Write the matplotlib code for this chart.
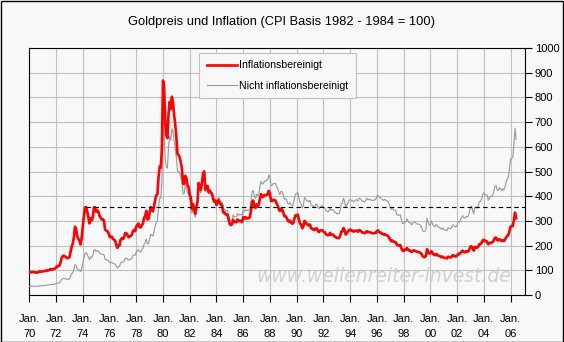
import numpy as np
import matplotlib
matplotlib.use('Agg')
import matplotlib.pyplot as plt
from matplotlib.patches import Rectangle

plt.rcParams['font.family'] = ['Liberation Sans', 'DejaVu Sans']

# monthly gold price, USD/oz, Jan 1970 .. Jun 2006
gold_nominal = [
    34.9, 35.0, 35.1, 35.6, 35.9, 35.4, 35.3, 35.4, 36.2, 37.5, 37.4, 37.4,
    37.9, 38.7, 38.9, 39.0, 40.5, 40.1, 41.0, 42.7, 42.0, 42.5, 42.9, 43.5,
    45.7, 48.3, 48.3, 49.0, 54.6, 62.1, 65.7, 67.0, 65.5, 64.9, 62.9, 63.9,
    65.1, 74.2, 84.4, 90.5, 102.0, 122.5, 120.0, 106.8, 103.0, 100.0, 94.0, 106.5,
    129.0, 150.2, 168.4, 172.2, 163.3, 154.1, 142.9, 154.6, 151.8, 158.8, 181.7, 183.9,
    175.8, 179.6, 178.0, 169.9, 167.4, 164.2, 165.4, 163.1, 144.3, 142.7, 142.2, 139.3,
    131.5, 130.9, 132.6, 128.3, 126.6, 125.5, 117.8, 109.3, 114.6, 116.0, 130.3, 133.9,
    132.3, 136.3, 148.2, 149.3, 146.6, 140.8, 143.3, 144.7, 149.0, 158.8, 162.6, 160.5,
    173.1, 178.2, 183.7, 175.1, 176.3, 183.7, 188.7, 206.1, 212.1, 227.3, 206.1, 207.8,
    227.3, 245.7, 242.0, 239.2, 257.6, 279.1, 294.7, 300.8, 355.1, 391.7, 392.5, 455.1,
    675.3, 665.3, 553.6, 517.4, 513.8, 600.7, 644.3, 626.5, 673.6, 661.1, 623.5, 594.9,
    557.5, 500.2, 499.8, 494.8, 479.7, 460.8, 409.3, 410.1, 443.1, 437.7, 413.3, 410.1,
    384.4, 374.4, 330.5, 350.3, 333.5, 314.9, 339.1, 364.9, 438.0, 422.9, 414.1, 444.3,
    481.3, 491.1, 419.7, 432.8, 438.4, 413.0, 422.7, 416.2, 411.4, 393.7, 382.2, 388.1,
    370.9, 386.1, 394.2, 381.2, 377.6, 377.7, 347.5, 347.7, 341.1, 340.2, 341.2, 320.2,
    302.8, 299.1, 304.4, 324.3, 316.3, 316.4, 317.4, 330.0, 323.5, 326.4, 325.3, 322.4,
    345.4, 339.1, 346.3, 340.8, 342.6, 342.7, 348.5, 376.7, 418.2, 423.6, 398.5, 391.3,
    408.3, 401.1, 408.9, 438.4, 460.2, 449.6, 450.5, 460.8, 460.2, 465.4, 467.3, 486.3,
    477.0, 442.1, 443.6, 451.6, 451.6, 451.3, 437.5, 431.6, 413.5, 406.7, 420.3, 418.7,
    404.4, 387.8, 390.2, 384.3, 371.1, 367.6, 375.0, 365.4, 361.8, 366.8, 392.3, 409.3,
    410.1, 416.8, 393.1, 374.3, 369.1, 352.3, 362.5, 395.1, 389.3, 381.0, 381.8, 376.6,
    383.6, 363.8, 363.3, 358.4, 356.8, 366.7, 367.7, 356.3, 348.7, 358.7, 359.8, 361.1,
    354.5, 353.9, 344.3, 338.6, 337.4, 340.8, 353.0, 343.2, 345.4, 344.4, 335.0, 334.7,
    329.0, 329.3, 330.0, 342.2, 367.1, 371.9, 392.0, 378.8, 355.3, 364.2, 373.9, 383.3,
    386.9, 382.0, 384.0, 377.3, 381.4, 385.6, 385.5, 380.4, 391.6, 389.8, 384.4, 379.3,
    379.0, 376.6, 382.1, 391.0, 385.2, 387.6, 386.2, 383.8, 383.1, 383.1, 385.5, 387.4,
    400.0, 404.8, 396.2, 392.9, 391.9, 385.3, 383.5, 387.5, 383.1, 381.1, 378.5, 369.5,
    355.0, 346.6, 351.8, 344.4, 343.8, 340.8, 324.1, 323.9, 322.8, 324.9, 306.0, 289.2,
    289.1, 297.5, 295.9, 308.4, 299.1, 292.3, 292.9, 284.1, 289.0, 296.0, 294.1, 291.6,
    287.1, 287.3, 286.0, 282.6, 276.4, 261.3, 256.1, 256.7, 264.7, 310.7, 293.2, 283.1,
    284.6, 300.4, 286.4, 280.0, 275.1, 285.7, 281.6, 274.5, 273.7, 270.6, 265.5, 271.5,
    265.5, 261.9, 263.0, 260.5, 272.4, 270.2, 267.5, 272.4, 283.4, 283.1, 276.2, 275.9,
    281.7, 295.5, 294.0, 302.7, 314.5, 321.2, 313.3, 310.3, 319.2, 316.6, 319.1, 333.4,
    356.9, 359.0, 340.6, 328.2, 355.7, 356.4, 351.0, 359.8, 378.9, 378.9, 389.9, 407.6,
    414.0, 405.3, 406.7, 403.0, 383.8, 392.4, 398.1, 400.5, 405.3, 420.5, 439.4, 442.1,
    424.0, 423.4, 434.2, 429.2, 421.9, 430.7, 424.5, 437.9, 456.0, 469.9, 476.7, 509.8,
    549.9, 555.0, 557.1, 610.6, 675.4, 630.0,
]

# same months, in 1982-84 dollars
gold_real = [
    92.3, 92.1, 92.1, 93.0, 93.2, 91.7, 91.0, 90.8, 92.6, 95.4, 94.7, 94.4,
    95.2, 97.0, 97.3, 97.3, 100.7, 99.5, 101.2, 105.2, 103.2, 104.2, 104.9, 106.1,
    111.2, 117.2, 116.7, 118.1, 131.3, 148.9, 156.8, 159.5, 155.6, 153.8, 148.3, 150.4,
    152.8, 173.0, 194.9, 207.6, 232.3, 276.5, 269.1, 237.9, 227.4, 219.3, 204.8, 230.0,
    276.8, 318.9, 354.5, 355.8, 337.4, 315.1, 289.9, 310.4, 301.8, 313.2, 354.9, 355.4,
    337.4, 342.7, 337.8, 320.6, 314.1, 306.3, 306.9, 301.5, 265.3, 260.9, 258.5, 251.9,
    236.5, 234.6, 236.4, 227.9, 223.7, 221.0, 206.3, 190.8, 199.3, 200.7, 224.7, 229.7,
    226.2, 231.8, 250.3, 250.9, 245.2, 233.9, 236.9, 238.0, 243.5, 258.2, 263.1, 258.0,
    277.0, 282.9, 289.3, 274.0, 273.8, 283.1, 288.5, 312.7, 319.4, 340.3, 306.2, 306.5,
    332.8, 355.6, 346.2, 338.3, 360.3, 386.0, 403.7, 407.6, 476.0, 519.5, 515.1, 591.0,
    868.0, 846.4, 698.1, 645.9, 635.1, 736.2, 781.9, 753.0, 802.9, 780.5, 729.2, 690.1,
    640.8, 571.0, 566.7, 557.2, 536.6, 512.0, 451.8, 449.2, 482.2, 473.2, 443.9, 437.7,
    407.6, 395.8, 348.3, 368.0, 349.2, 328.7, 352.9, 378.9, 453.4, 436.4, 426.0, 455.7,
    492.1, 500.6, 426.1, 438.1, 441.9, 415.1, 423.1, 415.4, 409.4, 390.2, 377.7, 382.0,
    364.0, 377.8, 384.6, 370.8, 366.2, 365.3, 335.1, 334.3, 327.0, 325.2, 325.3, 304.4,
    287.0, 282.7, 286.6, 304.5, 295.9, 295.1, 295.3, 305.8, 299.0, 300.6, 298.7, 295.0,
    315.1, 309.1, 315.1, 309.8, 311.2, 310.7, 315.7, 340.9, 377.8, 382.3, 359.3, 352.2,
    367.2, 359.4, 365.1, 390.4, 408.3, 397.5, 396.9, 404.9, 403.0, 406.1, 406.3, 421.8,
    412.3, 380.5, 380.4, 385.7, 384.3, 382.5, 369.5, 363.0, 346.6, 339.5, 349.7, 346.9,
    333.9, 318.9, 319.3, 313.2, 301.2, 297.2, 301.7, 292.8, 288.7, 291.6, 310.4, 322.5,
    321.9, 325.6, 305.7, 289.7, 284.4, 270.2, 276.7, 300.2, 294.5, 286.9, 286.2, 281.0,
    285.0, 269.7, 268.7, 264.5, 262.7, 269.4, 269.6, 260.8, 254.7, 261.4, 261.7, 262.0,
    256.7, 255.5, 247.9, 243.2, 241.7, 243.4, 251.4, 243.9, 244.8, 243.4, 236.1, 235.4,
    230.7, 230.4, 230.4, 238.5, 255.3, 258.1, 271.5, 261.8, 245.0, 250.7, 256.8, 262.7,
    264.6, 260.8, 261.4, 256.3, 258.4, 260.7, 260.1, 256.0, 263.0, 261.1, 257.0, 253.0,
    252.2, 250.1, 253.0, 258.4, 253.9, 255.0, 253.6, 251.3, 250.4, 249.7, 250.8, 251.4,
    259.1, 261.5, 255.3, 252.5, 251.2, 246.4, 244.6, 246.7, 243.2, 241.4, 239.1, 232.8,
    223.1, 217.6, 220.6, 215.7, 215.0, 212.9, 202.2, 201.7, 200.7, 201.8, 189.8, 179.2,
    178.9, 183.9, 182.5, 190.0, 184.1, 179.7, 179.8, 174.1, 176.9, 180.9, 179.5, 177.7,
    174.7, 174.4, 173.2, 170.9, 166.7, 157.2, 153.7, 153.8, 158.2, 185.3, 174.4, 168.1,
    168.6, 177.4, 168.6, 164.3, 161.0, 166.7, 163.7, 159.1, 158.2, 156.0, 152.5, 155.5,
    151.6, 149.4, 149.9, 148.3, 155.0, 153.6, 151.9, 154.5, 160.7, 160.3, 156.2, 156.0,
    159.1, 166.5, 165.3, 169.9, 176.1, 179.4, 174.6, 172.6, 177.1, 175.4, 176.4, 183.9,
    196.4, 197.3, 186.8, 179.7, 194.5, 194.5, 191.3, 195.9, 205.9, 205.6, 211.2, 220.4,
    223.5, 218.3, 218.5, 216.0, 205.2, 209.3, 211.8, 212.6, 214.6, 222.1, 231.5, 232.4,
    222.3, 221.3, 226.1, 222.8, 218.4, 222.1, 218.2, 224.5, 232.9, 239.3, 242.0, 257.9,
    277.3, 279.3, 278.8, 303.0, 333.5, 311.0,
]

tick_years = list(range(1970, 2007, 2))
tick_labels = ['Jan.\n%02d' % (y % 100) for y in tick_years]

bg = '#f8f8f8'
years = 1970 + np.arange(len(gold_real)) / 12.0

fig = plt.figure(figsize=(5.64, 3.42), dpi=100, facecolor=bg)
W, H = 564.0, 342.0
ax = fig.add_axes([29.3 / W, (H - 295) / H, (525 - 29.3) / W, (295 - 48) / H])
ax.set_facecolor(bg)

ax.plot(years, gold_real, color='#ff0000', lw=1.9, zorder=4,
        label='Inflationsbereinigt')
ax.plot(years, gold_nominal, color='#999999', lw=0.8, zorder=3,
        label='Nicht inflationsbereinigt')

# 1974 high as reference level
early = years < 1975
i_max = int(np.argmax(np.array(gold_real)[early]))
ax.hlines(gold_real[i_max], years[i_max], 2007.08, colors='black', lw=0.8,
          linestyles=(0, (4, 3)), zorder=5)

ax.set_xlim(1970, 2007.08)
ax.set_ylim(0, 1000)
ax.set_xticks(tick_years)
ax.set_xticklabels(tick_labels, fontsize=8, linespacing=1.6)
ax.set_yticks(range(0, 1001, 100))
ax.yaxis.tick_right()
ax.tick_params(axis='y', labelsize=8, length=5, width=0.8, pad=2)
ax.tick_params(axis='x', length=5, width=0.8, pad=9)
ax.grid(True, color='#c0c0c0', lw=0.8, zorder=0)
ax.set_axisbelow(True)
for s in ax.spines.values():
    s.set_color('black')
    s.set_linewidth(0.8)

ax.text(0.716, 0.073, 'www.wellenreiter-invest.de', transform=ax.transAxes,
        fontsize=13.5, style='italic', family='DejaVu Sans', color='#d0d0d0',
        ha='center', va='center', zorder=2)

leg = ax.legend(loc='upper left', bbox_to_anchor=(170 / 495.7, 1 - 5 / 247.0),
                fontsize=7.6, frameon=True, fancybox=False, handlelength=2.9,
                borderpad=0.7, labelspacing=1.0, handletextpad=0.2,
                borderaxespad=0)
leg.get_frame().set_edgecolor('#c0c0c0')
leg.get_frame().set_facecolor(bg)
leg.get_frame().set_alpha(1)
leg.get_frame().set_linewidth(0.8)

fig.text(282 / W, 1 - 22 / H, 'Goldpreis und Inflation (CPI Basis 1982 - 1984 = 100)',
         ha='center', va='center', fontsize=9.3)

fig.patches.append(Rectangle((0.5 / W, 0.5 / H), 1 - 1.5 / W, 1 - 1.5 / H,
                             transform=fig.transFigure, fill=False,
                             edgecolor='black', lw=1))

fig.savefig('out.png', dpi=100, facecolor=bg)
